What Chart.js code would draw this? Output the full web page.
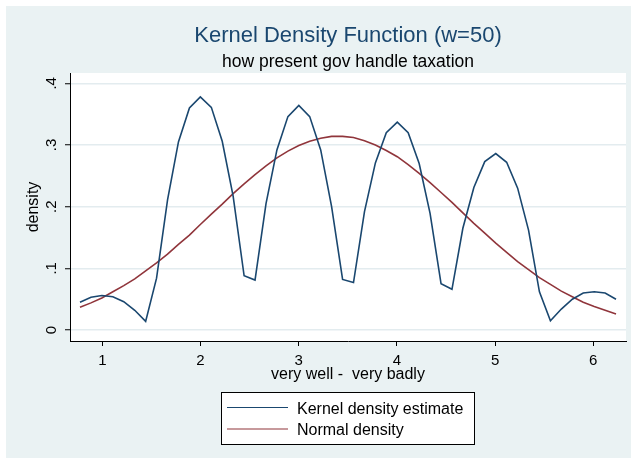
<!DOCTYPE html>
<html>
<head>
<meta charset="utf-8">
<title>Kernel Density Function</title>
<script src="https://cdn.jsdelivr.net/npm/chart.js@4/dist/chart.umd.min.js"></script>
<style>
  html, body { margin: 0; padding: 0; background: #ffffff; }
  canvas { display: block; }
</style>
</head>
<body>
<canvas id="kdensity" width="631" height="461"></canvas>
<script>
// evaluation points on the answer scale (1 = very well ... 6 = very badly)
const gridX = [
  0.772, 0.884, 0.995, 1.107, 1.218, 1.330, 1.441, 1.552, 1.664, 1.775,
  1.887, 1.998, 2.110, 2.221, 2.332, 2.444, 2.555, 2.667, 2.778, 2.890,
  3.001, 3.112, 3.224, 3.335, 3.447, 3.558, 3.670, 3.781, 3.892, 4.004,
  4.115, 4.227, 4.338, 4.450, 4.561, 4.672, 4.784, 4.895, 5.007, 5.118,
  5.230, 5.341, 5.452, 5.564, 5.675, 5.787, 5.898, 6.010, 6.121, 6.232,
];

// kernel density estimate at each point
const kernelY = [
  0.045, 0.053, 0.056, 0.054, 0.046, 0.032, 0.014, 0.084, 0.211, 0.305,
  0.360, 0.378, 0.361, 0.306, 0.217, 0.088, 0.081, 0.205, 0.292, 0.346,
  0.364, 0.346, 0.292, 0.200, 0.082, 0.077, 0.192, 0.271, 0.320, 0.337,
  0.320, 0.270, 0.189, 0.075, 0.066, 0.165, 0.231, 0.273, 0.286, 0.272,
  0.230, 0.162, 0.062, 0.015, 0.034, 0.050, 0.060, 0.062, 0.060, 0.050,
];

// normal density at the same points
const normalY = [
  0.037, 0.044, 0.052, 0.062, 0.072, 0.083, 0.096, 0.109, 0.123, 0.139,
  0.154, 0.171, 0.188, 0.204, 0.221, 0.237, 0.252, 0.266, 0.279, 0.290,
  0.299, 0.306, 0.311, 0.314, 0.314, 0.312, 0.307, 0.300, 0.291, 0.281,
  0.268, 0.254, 0.239, 0.223, 0.207, 0.190, 0.173, 0.157, 0.141, 0.126,
  0.111, 0.098, 0.085, 0.074, 0.063, 0.054, 0.045, 0.038, 0.032, 0.026,
];

const xTicks = [1, 2, 3, 4, 5, 6];
const yTicks = [0, 0.1, 0.2, 0.3, 0.4];
const seriesNames = ['Kernel density estimate', 'Normal density'];

const NAVY = '#1a476f';
const MAROON = '#90353b';
const BG = '#eaf2f3';
const GRID = '#e3ecef';
const FONT = '"Liberation Sans", Arial, Helvetica, sans-serif';

const toPoints = (ys) => gridX.map((x, i) => ({ x, y: ys[i] }));

// graph region, white plot region, titles and the boxed legend
const stataFrame = {
  id: 'stataFrame',
  beforeDraw(chart) {
    const { ctx, chartArea: { left, top, right, bottom } } = chart;
    ctx.save();
    ctx.fillStyle = '#ffffff';
    ctx.fillRect(0, 0, chart.width, chart.height);
    ctx.fillStyle = BG;
    ctx.fillRect(6, 6, chart.width - 6, chart.height - 9);
    ctx.fillStyle = '#ffffff';
    ctx.fillRect(left, top, right - left, bottom - top);
    ctx.restore();
  },
  afterDraw(chart) {
    const { ctx, chartArea: { left, top, right, bottom } } = chart;
    const cx = (left + right) / 2;
    ctx.save();
    ctx.textAlign = 'center';
    ctx.textBaseline = 'alphabetic';

    ctx.fillStyle = NAVY;
    ctx.font = `22px ${FONT}`;
    ctx.fillText('Kernel Density Function (w=50)', cx, 42);
    ctx.fillStyle = '#000000';
    ctx.font = `17.5px ${FONT}`;
    ctx.fillText('how present gov handle taxation', cx, 67);

    // axis titles
    ctx.font = `16px ${FONT}`;
    ctx.fillText('very well -  very badly', cx, 379);
    ctx.save();
    ctx.translate(34, (top + bottom) / 2);
    ctx.rotate(-Math.PI / 2);
    ctx.textBaseline = 'middle';
    ctx.fillText('density', 0, 0);
    ctx.restore();

    // legend
    const box = { x: 221.5, y: 392.5, w: 253, h: 52 };
    ctx.fillStyle = '#ffffff';
    ctx.fillRect(box.x, box.y, box.w, box.h);
    ctx.strokeStyle = '#000000';
    ctx.lineWidth = 1;
    ctx.strokeRect(box.x, box.y, box.w, box.h);
    ctx.textAlign = 'left';
    ctx.font = `16px ${FONT}`;
    chart.data.datasets.forEach((ds, i) => {
      const ly = 407.5 + i * 21.5;
      ctx.strokeStyle = ds.borderColor;
      ctx.lineWidth = 1.2;
      ctx.beginPath();
      ctx.moveTo(227, ly);
      ctx.lineTo(288, ly);
      ctx.stroke();
      ctx.fillStyle = '#000000';
      ctx.fillText(ds.label, 297, ly + 6);
    });
    ctx.restore();
  },
};

new Chart(document.getElementById('kdensity'), {
  type: 'line',
  data: {
    datasets: [
      { label: seriesNames[0], data: toPoints(kernelY), borderColor: NAVY },
      { label: seriesNames[1], data: toPoints(normalY), borderColor: MAROON },
    ],
  },
  options: {
    responsive: false,
    animation: false,
    parsing: false,
    layout: { padding: { top: 73, right: 5, left: 0, bottom: 0 } },
    elements: {
      line: { borderWidth: 1.6, tension: 0, fill: false },
      point: { radius: 0, hoverRadius: 0 },
    },
    plugins: {
      legend: { display: false },
      title: { display: false },
      tooltip: { enabled: false },
    },
    scales: {
      x: {
        type: 'linear',
        min: 0.6704,
        max: 6.3337,
        afterBuildTicks: (scale) => { scale.ticks = xTicks.map((value) => ({ value })); },
        afterFit: (scale) => { scale.height = 120; },
        border: { display: true, color: '#000000', width: 1 },
        grid: { drawOnChartArea: false, drawTicks: true, tickLength: 5, tickColor: '#000000' },
        ticks: {
          color: '#000000',
          padding: 6,
          maxRotation: 0,
          font: { family: FONT, size: 15 },
        },
      },
      y: {
        type: 'linear',
        min: -0.0178,
        max: 0.4167,
        afterBuildTicks: (scale) => { scale.ticks = yTicks.map((value) => ({ value })); },
        afterFit: (scale) => { scale.width = 70; },
        border: { display: true, color: '#000000', width: 1 },
        grid: { color: GRID, lineWidth: 1.5, tickColor: '#000000', tickWidth: 1, tickLength: 5 },
        ticks: {
          color: '#000000',
          padding: 7,
          minRotation: 90,
          maxRotation: 90,
          crossAlign: 'center',
          font: { family: FONT, size: 15 },
          callback: (value) => (value === 0 ? '0' : String(value).replace(/^0/, '')),
        },
      },
    },
  },
  plugins: [stataFrame],
});
</script>
</body>
</html>
